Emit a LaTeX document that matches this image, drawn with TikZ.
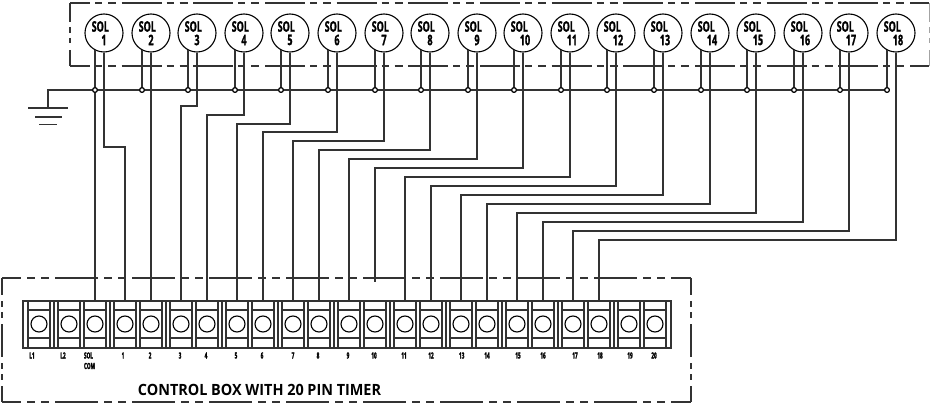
\documentclass[tikz,border=0pt]{standalone}
\usepackage{fontspec}
\setmainfont{Open Sans}
\newfontfamily\narrowf[FakeStretch=0.62,FakeBold=1.2]{Open Sans}
\newfontfamily\pinf[FakeStretch=0.55,FakeBold=2.0]{Open Sans}
\newfontfamily\titlef[FakeStretch=0.93]{Open Sans}
\definecolor{wire}{HTML}{333333}
\tikzset{
  wireline/.style={draw=wire,line width=1.3pt},
  solnode/.style={circle,draw=black,line width=1.1pt,fill=white,minimum size=38pt,inner sep=0pt},
  junc/.style={circle,draw=black,line width=1.1pt,fill=white,minimum size=4.6pt,inner sep=0pt},
  cell/.style={rectangle,minimum width=22pt,minimum height=47pt,inner sep=0pt,draw=wire,line width=1.1pt},
  screw/.style={circle,draw=black,line width=1.1pt,minimum size=16pt,inner sep=0pt},
  sollab/.style={inner sep=0pt,font=\narrowf\bfseries\fontsize{14.5}{15}\selectfont,text=black},
  pinlab/.style={inner sep=0pt,font=\pinf\bfseries\fontsize{8.5}{9}\selectfont,text=black},
  titlelab/.style={inner sep=0pt,font=\titlef\bfseries\fontsize{15.5}{16}\selectfont,text=black},
  boxa/.style={draw=wire,line width=1.3pt,dash pattern=on 40pt off 5pt on 7pt off 6pt on 8pt off 5.67pt,dash phase=20pt},
  boxah/.style={draw=wire,line width=1.3pt,dash pattern=on 19pt off 5pt on 6pt off 5pt on 5pt off 7pt on 16pt off 5pt},
  boxc/.style={draw=wire!45,line width=1pt,dash pattern=on 19pt off 5pt on 6pt off 5pt on 5pt off 7pt on 16pt off 5pt},
  boxb/.style={draw=wire,line width=1.3pt,dash pattern=on 43pt off 6pt on 8pt off 6pt on 8pt off 6pt,dash phase=24pt},
  boxbv/.style={draw=wire,line width=1.3pt,dash pattern=on 33pt off 6pt on 6pt off 5pt on 6pt off 6pt,dash phase=16pt},
}
\begin{document}
\begin{tikzpicture}[x=1pt,y=-1pt]
\useasboundingbox (0,0) rectangle (930,404);
% dashed enclosures
\draw[boxa] (70,3) -- (929,3);
\draw[boxa] (70,66) -- (929,66);
\draw[boxah] (70,3) -- (70,66);
\draw[boxc] (929.4,3) -- (929.4,66);
\draw[boxb] (2,278) -- (691,278);
\draw[boxb] (2,402) -- (691,402);
\draw[boxbv] (2,278) -- (2,402);
\draw[boxbv] (691,278) -- (691,402);
% terminal block
\coordinate (BL) at (23,301);
\coordinate (BR) at (671,348);
\draw[draw=wire,line width=1.3pt] (BL) rectangle (BR);
\foreach \nm/\x/\lab/\lx in {L1/39/L1/32,L2/69/L2/63,COM/95/{}/89,1/125/1/123,2/151/2/150,3/181/3/180,4/207/4/206,5/237/5/236,6/263/6/262,7/293/7/293,8/319/8/318,9/349/9/348,10/375/10/374,11/405/11/404,12/431/12/431,13/461/13/461.7,14/487/14/487,15/517/15/518,16/543/16/543,17/573/17/575,18/599/18/600,19/629/19/630,20/655/20/654}{
  \node[cell] (T\nm) at (\x,324.5) {};
  \draw[wire,line width=1.1pt] (\x-11,310) -- (\x+11,310) (\x-11,338) -- (\x+11,338);
  \node[screw] (P\nm) at (\x,324) {};
  \node[pinlab] (N\nm) at (\lx,355.5) {\lab};
}
\foreach \x in {54,110,166,222,278,334,390,446,502,558,614}{
  \draw[wire,line width=1.1pt] (\x,301) -- (\x,348);
}
\node[pinlab] (NSOL) at (88.5,355.5) {SOL};
\node[pinlab] (NCOMB) at (89.5,366) {COM};
\node[titlelab] (title) at (259.5,389.5) {CONTROL BOX WITH 20 PIN TIMER};
% solenoids
\foreach \i [evaluate=\i as \cx using {round(104+46.59*(\i-1))}] in {1,...,18}{
  \node[solnode] (S\i) at (\cx,33) {};
  \node[sollab] (SA\i) at (\cx-3.7,26.5) {SOL};
  \node[junc] (J\i) at (\cx-9,90) {};
}
\foreach \i in {1,...,9}{ \path (S\i.center) ++(0,7) node[sollab] (SB\i) {\i}; }
\foreach \i in {10,...,18}{ \path (S\i.center) ++(2,7) node[sollab] (SB\i) {\i}; }
% common bus and ground
\coordinate (G) at (48,90);
\coordinate (G1) at (48,108);
\draw[wireline] (G1) -- (G) -- (J1) -- (J2) -- (J3) -- (J4) -- (J5) -- (J6) -- (J7) -- (J8) -- (J9) -- (J10) -- (J11) -- (J12) -- (J13) -- (J14) -- (J15) -- (J16) -- (J17) -- (J18);
\draw[wireline] (28,108) -- (68,108) (35,117) -- (62,117) (39,124.5) -- (57,124.5);
\foreach \i in {1,...,18}{
  \draw[wireline] (J\i.north) -- (J\i.north |- S\i.-118);
  \node[junc] at (J\i) {};
}
\draw[wireline] (J1.south) -- (TCOM.north);
% wires to terminals
\foreach \i/\t/\lev in {1/1/147,3/3/106,4/4/115,5/5/124,6/6/132,7/7/141,8/8/150,9/9/159,11/11/177,12/12/186,13/13/195,14/14/204,15/15/213,16/16/222,17/17/231,18/18/240}{
  \coordinate (K\i) at (T\t.north |- 0,\lev);
  \draw[wireline] (S\i.south) |- (K\i) -- (T\t.north);
}
\draw[wireline] (S2.south) -- (S2.south |- T2.north);
\coordinate (K10) at (375,168);
\coordinate (E10) at (375,282);
\draw[wireline] (S10.south) |- (K10) -- (E10);
\end{tikzpicture}
\end{document}
